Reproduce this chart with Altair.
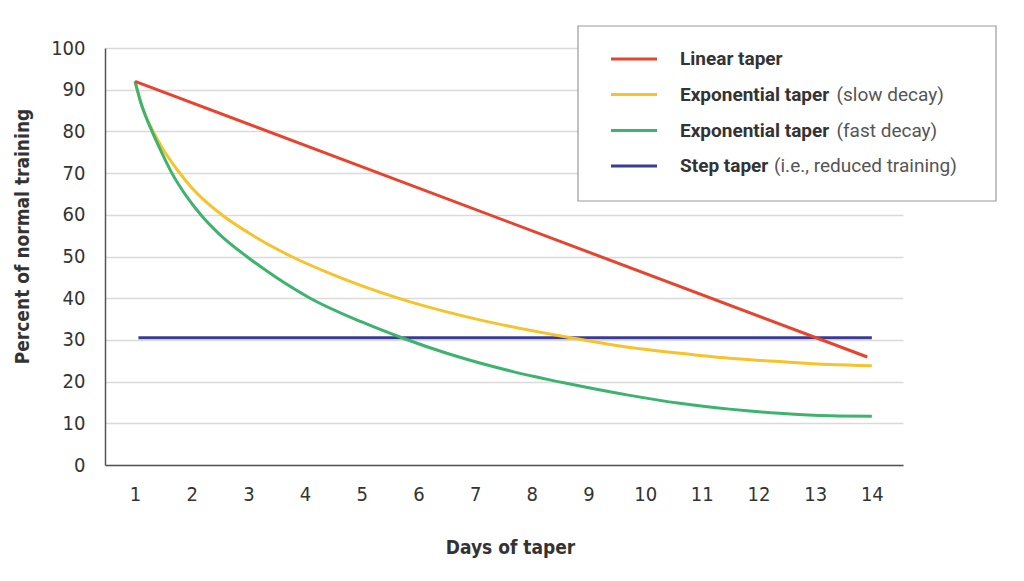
import altair as alt
import pandas as pd

# ---- data ----
days_linear = [1, 13.92]
pct_linear = [92, 25.9]

days_slow = [1, 1.1, 1.2, 1.32, 1.5, 1.76, 2, 2.53, 3, 3.76, 4.5, 5.67, 7.08, 8.49, 9.73, 10.61, 11.49, 12.37, 13.26, 14]
pct_slow = [92, 87.0, 83.3, 80.0, 75.6, 70.5, 66.5, 60.0, 55.7, 50.0, 45.6, 39.9, 34.8, 31.0, 28.2, 26.8, 25.6, 24.8, 24.1, 23.8]

days_fast = [1, 1.1, 1.2, 1.3, 1.45, 1.65, 1.9, 2.16, 2.5, 2.97, 3.5, 4.09, 5, 5.73, 6.5, 7.67, 8.61, 9.73, 10.61, 11.49, 12.37, 13.26, 14]
pct_fast = [92, 87.0, 83.2, 80.0, 75.5, 70.0, 64.6, 60.0, 55.2, 50.0, 44.9, 40.0, 34.3, 30.4, 26.8, 22.4, 19.6, 16.7, 14.8, 13.4, 12.4, 11.8, 11.7]

days_step = [1.06, 14]
pct_step = [30.5, 30.5]

series_bold = ["Linear taper", "Exponential taper", "Exponential taper", "Step taper"]
series_note = ["", "(slow decay)", "(fast decay)", "(i.e., reduced training)"]
series_key = ["linear", "slow", "fast", "step"]
colors = ["#e8432d", "#f8c22b", "#3cb46e", "#3b3b97"]

y_ticks = [0, 10, 20, 30, 40, 50, 60, 70, 80, 90, 100]
x_ticks = list(range(1, 15))

x_title = "Days of taper"
y_title = "Percent of normal training"

LABEL_FONT = "'Liberation Sans Narrow', 'DejaVu Sans Condensed', Roboto, sans-serif"
LEG_FONT = "Roboto, 'Noto Sans', sans-serif"

series_data = {
    "linear": (days_linear, pct_linear),
    "slow": (days_slow, pct_slow),
    "fast": (days_fast, pct_fast),
    "step": (days_step, pct_step),
}

x_scale = alt.Scale(domain=[0.47, 14.55], nice=False, zero=False)
y_scale = alt.Scale(domain=[0, 100], nice=False)

x_axis = alt.Axis(
    values=x_ticks, grid=False, ticks=False, domainColor="#555555", domainWidth=1.5,
    labelFont=LABEL_FONT, labelFontSize=20, labelColor="#333333", labelPadding=19,
    title=x_title, titleFont=LABEL_FONT, titleFontSize=19, titleFontWeight="bold",
    titleColor="#333333", titleX=405, titleY=82, titleAlign="center", titleBaseline="middle",
)
y_axis = alt.Axis(
    values=y_ticks, grid=True, gridColor="#dadada", gridWidth=1.5, ticks=False,
    domainColor="#555555", domainWidth=1.5,
    labelFont=LABEL_FONT, labelFontSize=20, labelColor="#333333", labelPadding=20,
    title=y_title, titleFont=LABEL_FONT, titleFontSize=19, titleFontWeight="bold",
    titleColor="#333333", titleX=-83, titleY=188, titleAngle=270,
    titleAlign="center", titleBaseline="middle",
)

layers = []
# draw order: step first, then slow, fast, linear on top
for i in [3, 1, 2, 0]:
    key = series_key[i]
    d, p = series_data[key]
    df = pd.DataFrame({"day": d, "pct": p})
    layers.append(
        alt.Chart(df).mark_line(
            color=colors[i], strokeWidth=3, interpolate="monotone", strokeCap="butt"
        ).encode(
            x=alt.X("day:Q", scale=x_scale, axis=x_axis),
            y=alt.Y("pct:Q", scale=y_scale, axis=y_axis),
        )
    )

# ---- hand-built legend (mixed bold / regular text) ----
box = alt.Chart(pd.DataFrame({"k": [0]})).mark_rect(
    fill="white", stroke="#9a9a9a", strokeWidth=1.2
).encode(x=alt.value(473), x2=alt.value(891), y=alt.value(-22), y2=alt.value(153))
layers.append(box)

row_y = [11, 46.5, 82.5, 118]
note_x = [0, 731.5, 731.5, 669]
for i in range(4):
    one = pd.DataFrame({"bold": [series_bold[i]], "note": [series_note[i]]})
    layers.append(
        alt.Chart(one).mark_rule(color=colors[i], strokeWidth=3).encode(
            x=alt.value(506), x2=alt.value(552), y=alt.value(row_y[i])
        )
    )
    layers.append(
        alt.Chart(one).mark_text(
            align="left", baseline="middle", font=LEG_FONT, fontSize=19,
            fontWeight="bold", color="#333333"
        ).encode(x=alt.value(575), y=alt.value(row_y[i]), text="bold:N")
    )
    if series_note[i]:
        layers.append(
            alt.Chart(one).mark_text(
                align="left", baseline="middle", font=LEG_FONT, fontSize=19,
                color="#555555"
            ).encode(x=alt.value(note_x[i]), y=alt.value(row_y[i]), text="note:N")
        )

chart = alt.layer(*layers).properties(
    width=798, height=417,
    autosize=alt.AutoSizeParams(type="none"),
    padding={"left": 97, "top": 40, "right": 100, "bottom": 110},
).configure(background="white").configure_view(stroke=None)

chart.save("out.html", embed_options={"renderer": "svg", "actions": False})
